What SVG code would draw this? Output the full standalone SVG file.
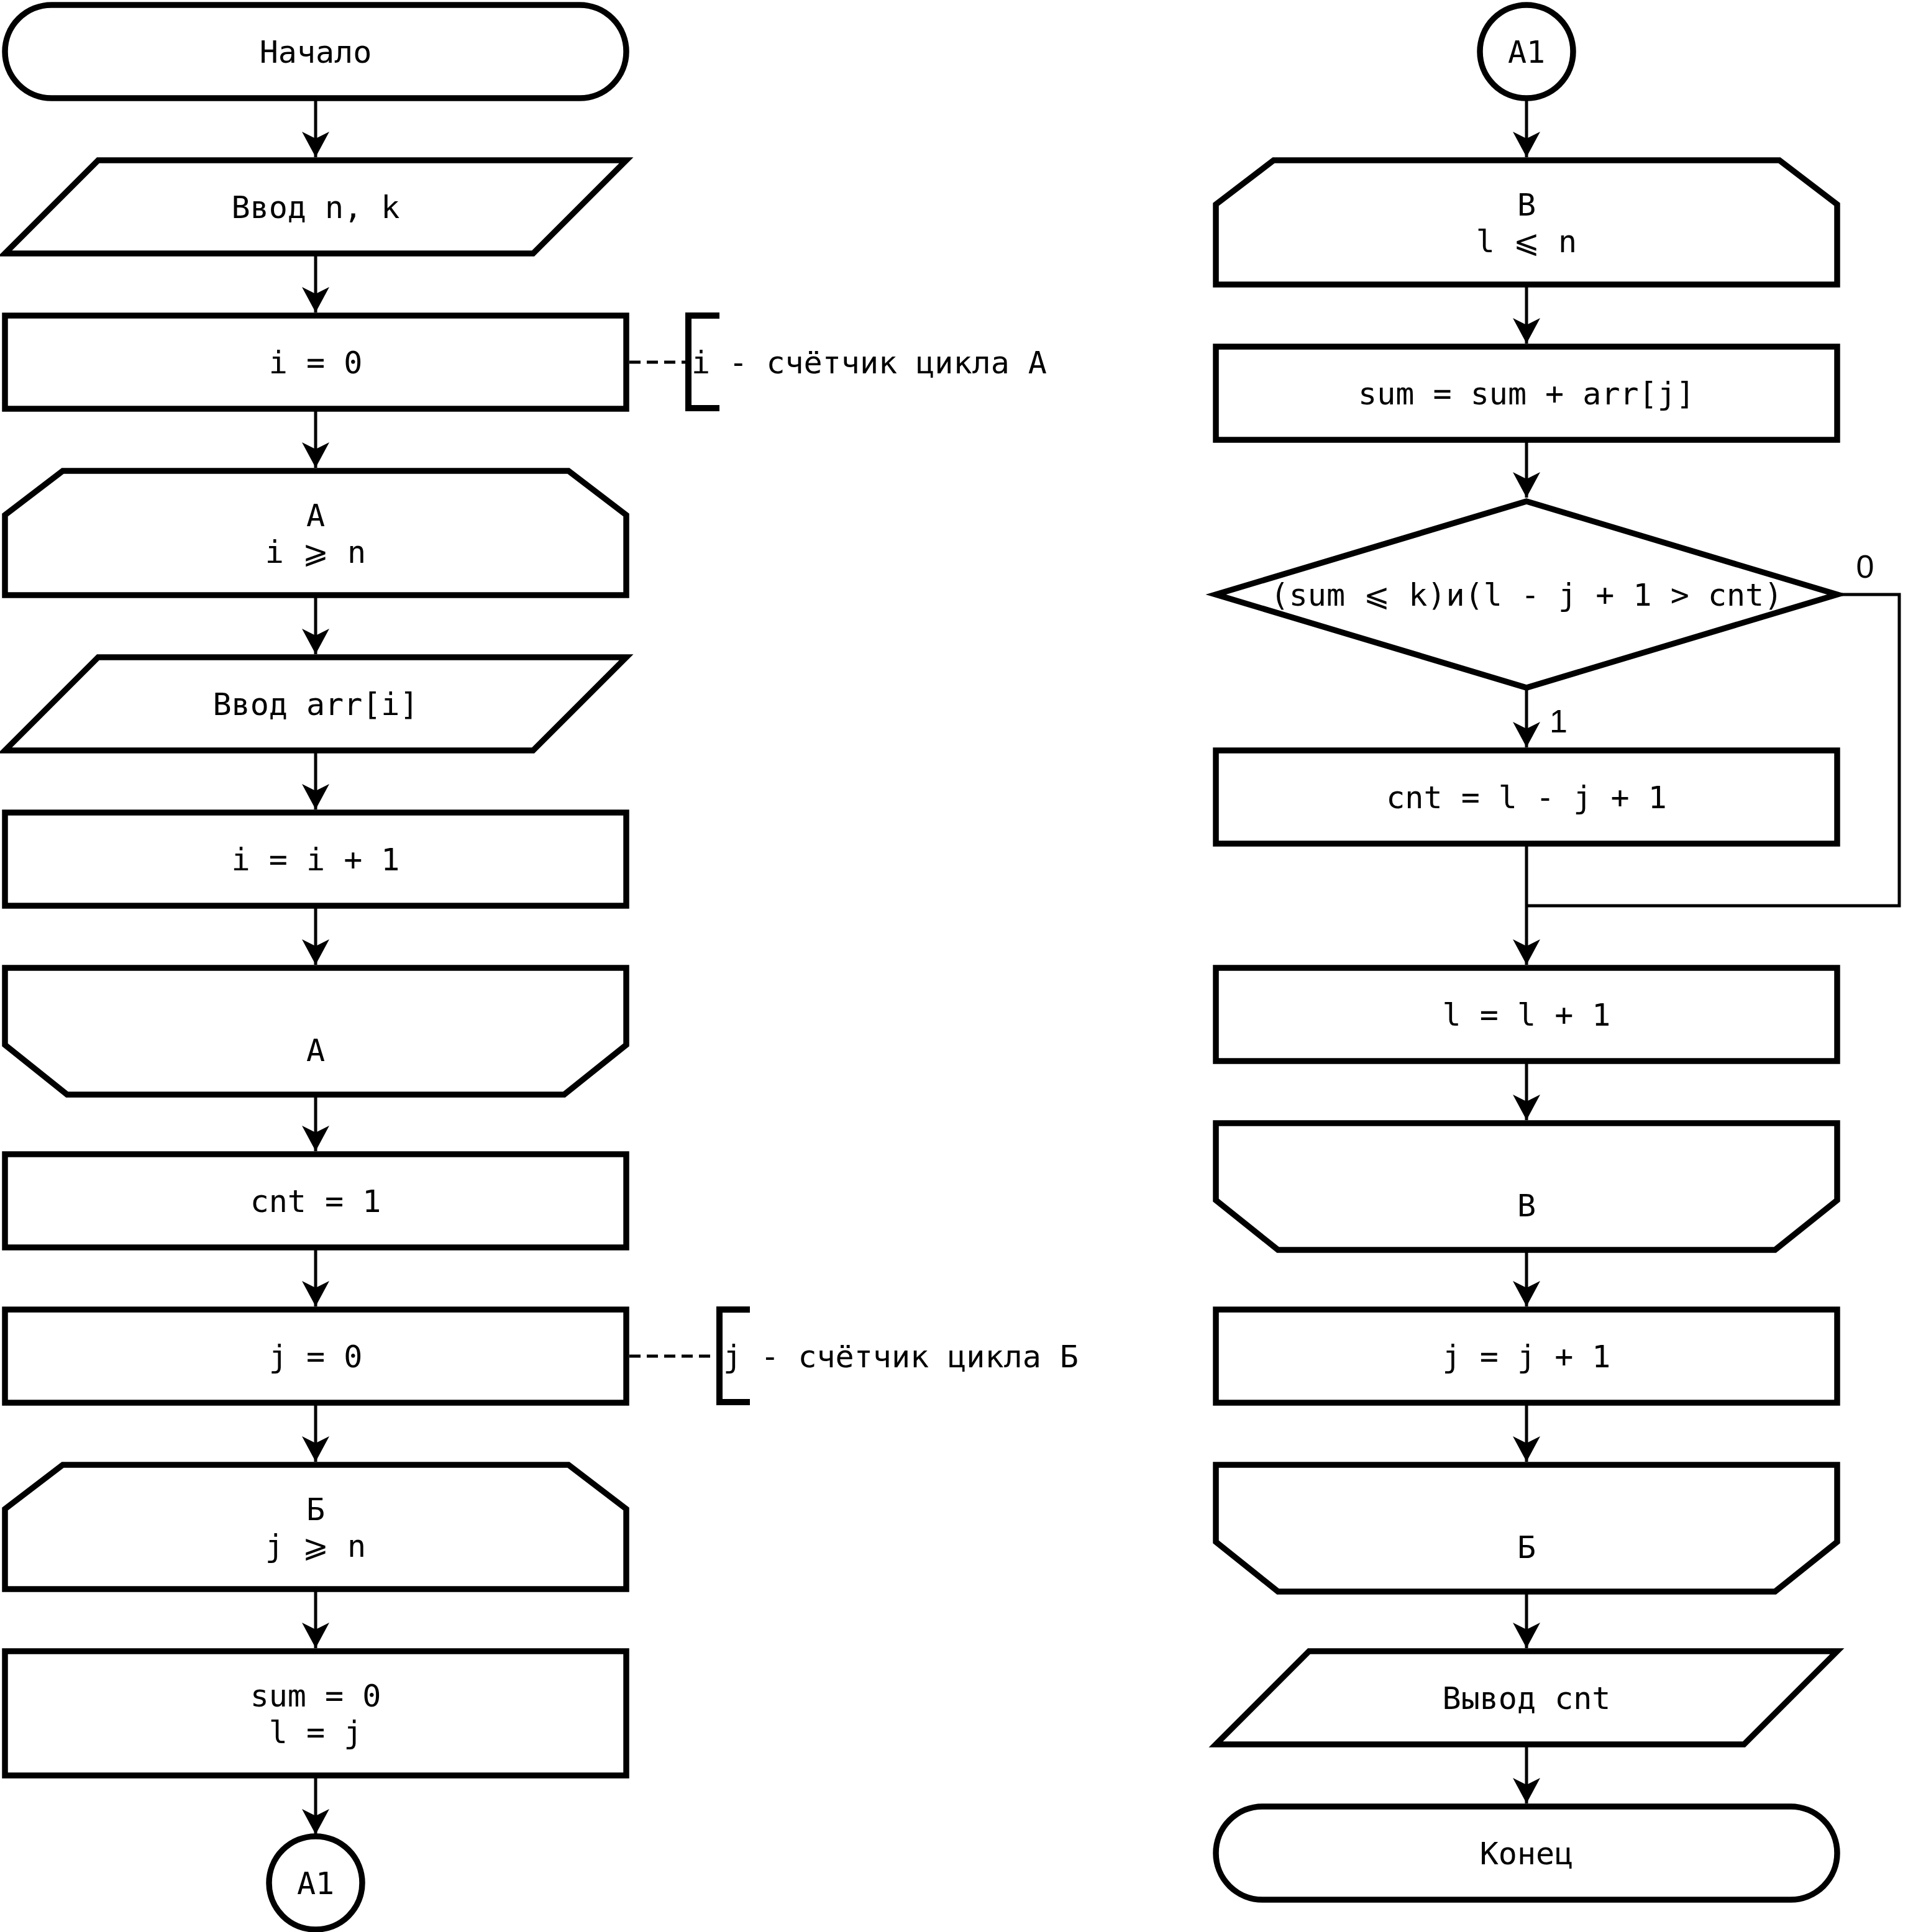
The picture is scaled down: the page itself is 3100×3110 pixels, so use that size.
<svg xmlns="http://www.w3.org/2000/svg" width="3100" height="3110" viewBox="0 0 3100 3110">
<defs>
<marker id="arr" markerUnits="userSpaceOnUse" viewBox="-42 -23 44 46" refX="0" refY="0" markerWidth="44" markerHeight="46" orient="auto">
<path d="M0,0 L-41,-22 L-30,0 L-41,22 Z" fill="#000"/>
</marker>
</defs>
<style>
.s{fill:#fff;stroke:#000;stroke-width:9.5;stroke-miterlimit:10}
.t{font-family:"DejaVu Sans Mono","Liberation Mono",monospace;font-size:50px;fill:#000;text-anchor:middle}
.a{font-family:"DejaVu Sans Mono","Liberation Mono",monospace;font-size:50px;fill:#000;text-anchor:start}
.l{font-family:"Liberation Sans",Arial,sans-serif;font-size:52px;fill:#000}
.c{fill:none;stroke:#000;stroke-width:5}
.ca{fill:none;stroke:#000;stroke-width:5;marker-end:url(#arr)}
.d{fill:none;stroke:#000;stroke-width:5;stroke-dasharray:18 10}
.b{fill:none;stroke:#000;stroke-width:10}
</style>
<rect width="3100" height="3110" fill="#fff"/>
<g id="connectors">
<path class="ca" d="M508,158 V253"/>
<path class="ca" d="M508,408 V503"/>
<path class="ca" d="M508,658 V753"/>
<path class="ca" d="M508,958 V1053"/>
<path class="ca" d="M508,1208 V1303"/>
<path class="ca" d="M508,1458 V1553"/>
<path class="ca" d="M508,1762 V1853"/>
<path class="ca" d="M508,2008 V2103"/>
<path class="ca" d="M508,2258 V2353"/>
<path class="ca" d="M508,2558 V2653"/>
<path class="ca" d="M508,2858 V2953"/>
<path class="ca" d="M2457,158 V253"/>
<path class="ca" d="M2457,458 V553"/>
<path class="ca" d="M2457,708 V801"/>
<path class="ca" d="M2457,1107 V1203"/>
<path class="ca" d="M2457,1358 V1553"/>
<path class="c" d="M2957,957 H3057 V1458 H2457"/>
<path class="ca" d="M2457,1708 V1803"/>
<path class="ca" d="M2457,2012 V2103"/>
<path class="ca" d="M2457,2258 V2353"/>
<path class="ca" d="M2457,2562 V2653"/>
<path class="ca" d="M2457,2808 V2903"/>
<text class="l" x="3002" y="930" text-anchor="middle">0</text>
<text class="l" x="2494" y="1179">1</text>
</g>
<g id="n-start"><rect class="s" x="8" y="8" width="1000" height="150" rx="75" ry="75"/><text class="t" x="508" y="101">Начало</text></g>
<g id="n-input-nk"><polygon class="s" points="158,258 1008,258 858,408 8,408"/><text class="t" x="508" y="351">Ввод n, k</text></g>
<g id="n-i0"><rect class="s" x="8" y="508" width="1000" height="150"/><text class="t" x="508" y="601">i = 0</text></g>
<g id="note-i"><path class="d" d="M1013,583 H1108"/><path class="b" d="M1158,508 H1108 V657 H1158"/><text class="a" x="1113" y="601">i - счётчик цикла А</text></g>
<g id="n-loopA-start"><polygon class="s" points="101,758 915,758 1008,829 1008,958 8,958 8,829"/><text class="t" x="508" y="847">А</text><text class="t" x="508" y="906">i ⩾ n</text></g>
<g id="n-input-arr"><polygon class="s" points="158,1058 1008,1058 858,1208 8,1208"/><text class="t" x="508" y="1151">Ввод arr[i]</text></g>
<g id="n-inc-i"><rect class="s" x="8" y="1308" width="1000" height="150"/><text class="t" x="508" y="1401">i = i + 1</text></g>
<g id="n-loopA-end"><polygon class="s" points="8,1558 1008,1558 1008,1682 908,1762 108,1762 8,1682"/><text class="t" x="508" y="1708">А</text></g>
<g id="n-cnt1"><rect class="s" x="8" y="1858" width="1000" height="150"/><text class="t" x="508" y="1951">cnt = 1</text></g>
<g id="n-j0"><rect class="s" x="8" y="2108" width="1000" height="150"/><text class="t" x="508" y="2201">j = 0</text></g>
<g id="note-j"><path class="d" d="M1013,2183 H1158"/><path class="b" d="M1207,2108 H1158 V2257 H1207"/><text class="a" x="1164" y="2201">j - счётчик цикла Б</text></g>
<g id="n-loopB-start"><polygon class="s" points="101,2358 915,2358 1008,2429 1008,2558 8,2558 8,2429"/><text class="t" x="508" y="2447">Б</text><text class="t" x="508" y="2506">j ⩾ n</text></g>
<g id="n-sum0"><rect class="s" x="8" y="2658" width="1000" height="200"/><text class="t" x="508" y="2747">sum = 0</text><text class="t" x="508" y="2806">l = j</text></g>
<g id="n-A1-out"><circle class="s" cx="508" cy="3031" r="75"/><text class="t" x="508" y="3049">А1</text></g>
<g id="n-A1-in"><circle class="s" cx="2457" cy="83" r="75"/><text class="t" x="2457" y="101">А1</text></g>
<g id="n-loopV-start"><polygon class="s" points="2050,258 2864,258 2957,329 2957,458 1957,458 1957,329"/><text class="t" x="2457" y="347">В</text><text class="t" x="2457" y="406">l ⩽ n</text></g>
<g id="n-sum"><rect class="s" x="1957" y="558" width="1000" height="150"/><text class="t" x="2457" y="651">sum = sum + arr[j]</text></g>
<g id="n-cond"><polygon class="s" points="2457,807 2957,957 2457,1107 1957,957"/><text class="t" x="2457" y="975">(sum ⩽ k)и(l - j + 1 &gt; cnt)</text></g>
<g id="n-cnt"><rect class="s" x="1957" y="1208" width="1000" height="150"/><text class="t" x="2457" y="1301">cnt = l - j + 1</text></g>
<g id="n-inc-l"><rect class="s" x="1957" y="1558" width="1000" height="150"/><text class="t" x="2457" y="1651">l = l + 1</text></g>
<g id="n-loopV-end"><polygon class="s" points="1957,1808 2957,1808 2957,1932 2857,2012 2057,2012 1957,1932"/><text class="t" x="2457" y="1958">В</text></g>
<g id="n-inc-j"><rect class="s" x="1957" y="2108" width="1000" height="150"/><text class="t" x="2457" y="2201">j = j + 1</text></g>
<g id="n-loopB-end"><polygon class="s" points="1957,2358 2957,2358 2957,2482 2857,2562 2057,2562 1957,2482"/><text class="t" x="2457" y="2508">Б</text></g>
<g id="n-output"><polygon class="s" points="2107,2658 2957,2658 2807,2808 1957,2808"/><text class="t" x="2457" y="2751">Вывод cnt</text></g>
<g id="n-end"><rect class="s" x="1957" y="2908" width="1000" height="150" rx="75" ry="75"/><text class="t" x="2457" y="3001">Конец</text></g>
</svg>
